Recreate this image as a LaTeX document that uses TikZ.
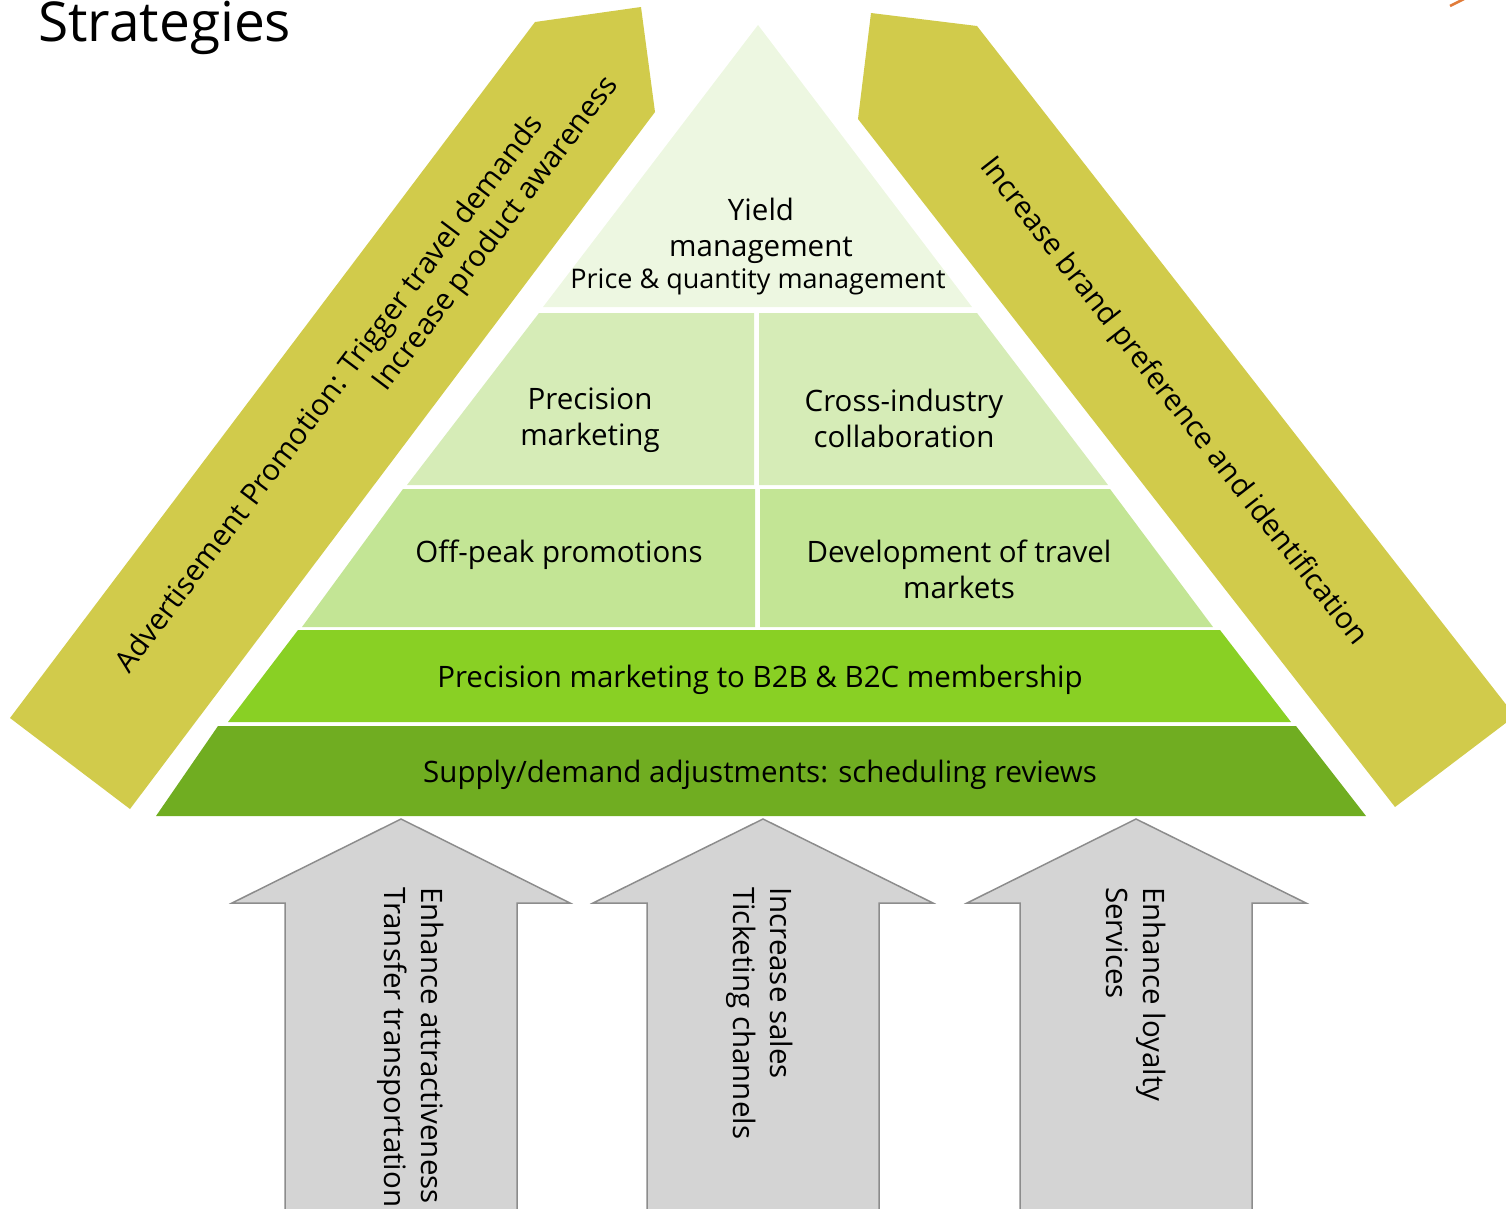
\documentclass[tikz,border=0pt]{standalone}
\usepackage{fontspec}
\setmainfont{Open Sans}
\usetikzlibrary{positioning}
\usepackage{xcolor}

\definecolor{bandolive}{HTML}{D1CB4B}
\definecolor{tierone}{HTML}{EDF7E1}
\definecolor{tiertwo}{HTML}{D6ECB7}
\definecolor{tierthree}{HTML}{C3E595}
\definecolor{tierfour}{HTML}{89D024}
\definecolor{tierfive}{HTML}{70AD21}
\definecolor{arrowgray}{HTML}{D4D4D4}
\definecolor{arrowedge}{HTML}{8C8C8C}
\definecolor{cornerorange}{HTML}{E07B39}

\begin{document}
\begin{tikzpicture}[x=1pt, y=-1pt]

  % Define styles for texts and shapes
  \tikzstyle{tiertext} = [text centered, align=center, inner sep=0pt, font=\fontsize{29.5}{36}\selectfont]
  \tikzstyle{smalltext} = [text centered, inner sep=0pt, font=\fontsize{27}{32}\selectfont]
  \tikzstyle{bandtext} = [align=left, inner sep=0pt, font=\fontsize{29.5}{36}\selectfont]
  \tikzstyle{uptext} = [align=left, inner sep=0pt, rotate=-90, anchor=west, font=\fontsize{29.5}{37}\selectfont]
  \tikzstyle{uparrow} = [fill=arrowgray, draw=arrowedge, line width=1.5pt]

  \clip (0,0) rectangle (1506,1208);

  % Title
  \node[anchor=base west, inner sep=0pt, font=\fontsize{55}{64}\selectfont] (title) at (38,41) {Strategies};
  \draw[cornerorange, line width=2.5pt] (1450,6) -- (1464,-1);

  % Side bands
  \fill[bandolive] (10,718) -- (535,22) -- (641,7) -- (655,112) -- (130,809) -- cycle;
  \fill[bandolive] (871,13) -- (977,26) -- (1515,716) -- (1395,807) -- (858,119) -- cycle;

  \node[bandtext, rotate=53] (promo) at (368,375) {Advertisement Promotion: Trigger travel demands\\\hspace*{380pt}Increase product awareness};
  \node[bandtext, rotate=-52] (brand) at (1173,402) {Increase brand preference and identification};

  % Pyramid tiers
  \fill[tierone] (758,25) -- (972,307) -- (543,307) -- cycle;
  \fill[tiertwo] (539,313) -- (754,313) -- (754,485) -- (407,485) -- cycle;
  \fill[tiertwo] (759,313) -- (977,313) -- (1108,485) -- (759,485) -- cycle;
  \fill[tierthree] (403,489) -- (755,489) -- (755,627) -- (302,627) -- cycle;
  \fill[tierthree] (760,489) -- (1110,489) -- (1213,627) -- (760,627) -- cycle;
  \fill[tierfour] (298,630) -- (1220,630) -- (1291,722) -- (228,722) -- cycle;
  \fill[tierfive] (218,726) -- (1296,726) -- (1366,816) -- (156,816) -- cycle;

  % Tier labels
  \node[tiertext] (yield) at (761,231) {Yield\\management};
  \node[smalltext] (price) at (758,282) {Price \& quantity management};
  \node[tiertext] (precision) at (590,420) {Precision\\marketing};
  \node[tiertext] (cross) at (904,418) {Cross-industry\\collaboration};
  \node[tiertext] (offpeak) at (559,555) {Off-peak promotions};
  \node[tiertext] (develop) at (959,569) {Development of travel\\markets};
  \node[tiertext] (members) at (760,680) {Precision marketing to B2B \& B2C membership};
  \node[tiertext] (supply) at (760,775) {Supply/demand adjustments: scheduling reviews};

  % Up arrows
  \draw[uparrow] (401,819) -- (570,903) -- (517,903) -- (517,1220) -- (285,1220) -- (285,903) -- (232,903) -- cycle;
  \draw[uparrow] (763,819) -- (933,903) -- (879,903) -- (879,1220) -- (647,1220) -- (647,903) -- (593,903) -- cycle;
  \draw[uparrow] (1136,819) -- (1306,903) -- (1252,903) -- (1252,1220) -- (1020,1220) -- (1020,903) -- (967,903) -- cycle;

  \node[uptext] (transfer) at (411,887) {Enhance attractiveness\\Transfer transportation};
  \node[uptext] (ticketing) at (760,887) {Increase sales\\Ticketing channels};
  \node[uptext] (loyalty) at (1136,887) {Enhance loyalty\\Services};

\end{tikzpicture}
\end{document}
